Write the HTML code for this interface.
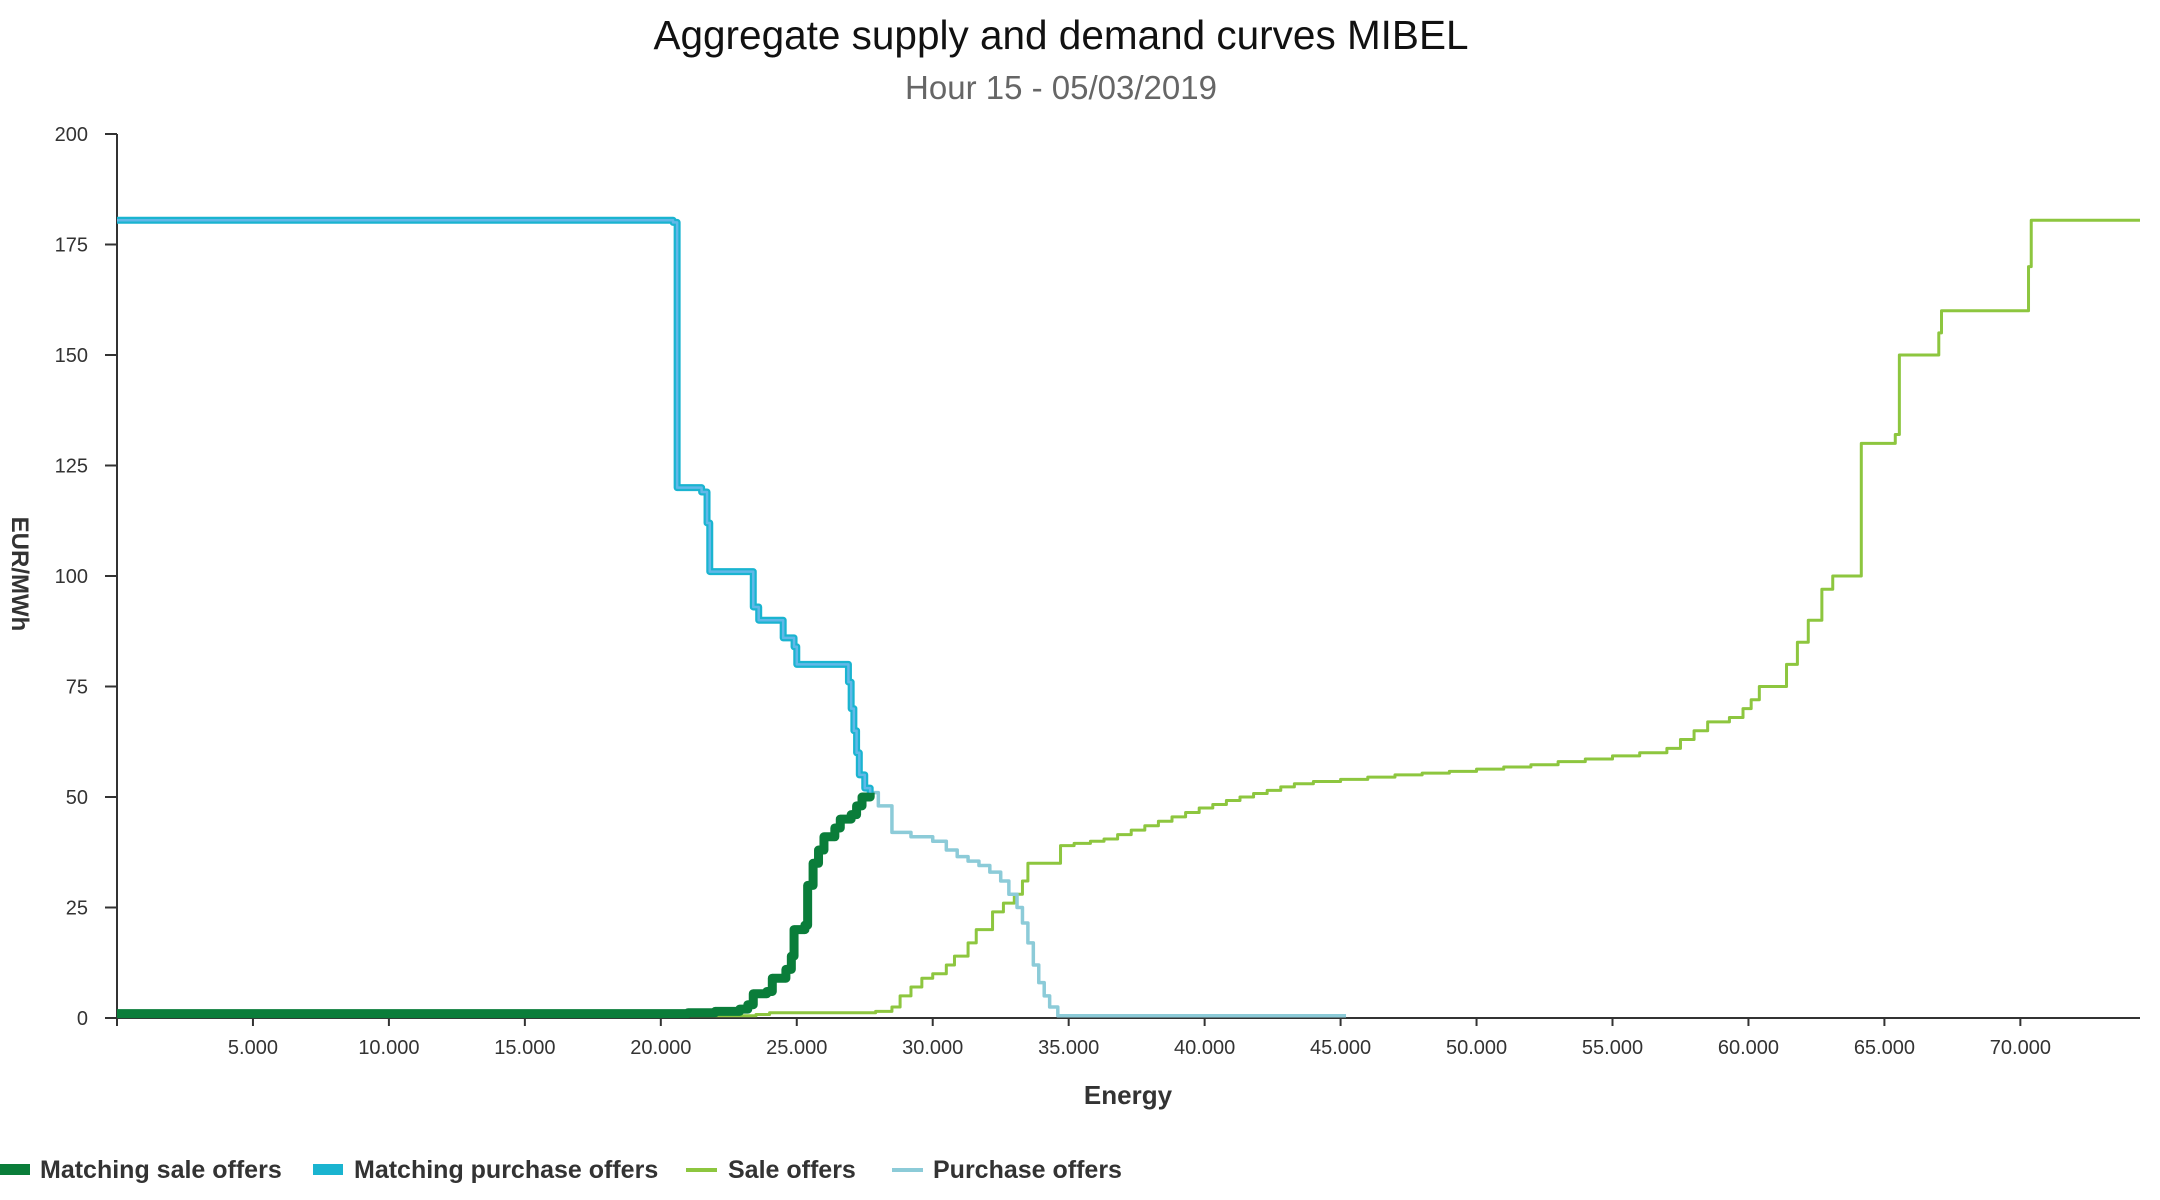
<!DOCTYPE html>
<html><head><meta charset="utf-8"><style>
html,body{margin:0;padding:0;background:#fff;}
svg{display:block;font-family:"Liberation Sans",sans-serif;}
</style></head><body>
<svg id="chart" width="2160" height="1200" viewBox="0 0 2160 1200">
<text x="1061" y="49" text-anchor="middle" font-size="40.5" fill="#111">Aggregate supply and demand curves MIBEL</text>
<text x="1061" y="99" text-anchor="middle" font-size="33" fill="#666">Hour 15 - 05/03/2019</text>
<g id="grid"></g>
<g id="series"></g>
<text transform="translate(12,574) rotate(90)" text-anchor="middle" font-size="24" font-weight="bold" fill="#333">EUR/MWh</text>
<text x="1128" y="1104" text-anchor="middle" font-size="26" font-weight="bold" fill="#333">Energy</text>
<g>
 <g><rect x="0" y="1164" width="30" height="11" fill="#0a7d3a"/><text x="40" y="1178" font-size="25" font-weight="bold" fill="#333">Matching sale offers</text></g>
 <g><rect x="313" y="1164" width="30" height="11" fill="#1ab4d0"/><text x="354" y="1178" font-size="25" font-weight="bold" fill="#333">Matching purchase offers</text></g>
 <g><rect x="686" y="1168" width="31" height="4" fill="#8dc63f"/><text x="728" y="1178" font-size="25" font-weight="bold" fill="#333">Sale offers</text></g>
 <g><rect x="892" y="1168" width="31" height="4" fill="#8ccbd8"/><text x="933" y="1178" font-size="25" font-weight="bold" fill="#333">Purchase offers</text></g>
</g>
</svg>
<script>
const xTicks = [5000,10000,15000,20000,25000,30000,35000,40000,45000,50000,55000,60000,65000,70000];
const xTickLabels = ["5.000","10.000","15.000","20.000","25.000","30.000","35.000","40.000","45.000","50.000","55.000","60.000","65.000","70.000"];
const yTicks = [0,25,50,75,100,125,150,175,200];
const saleX = [0,23500,24000,27900,28500,28800,29200,29600,30000,30500,30800,31300,31600,32200,32600,33000,33300,33500,34700,35200,35800,36300,36800,37300,37800,38300,38800,39300,39800,40300,40800,41300,41800,42300,42800,43300,44000,45000,46000,47000,48000,49000,50000,51000,52000,53000,54000,55000,56000,57000,57500,58000,58500,59300,59800,60100,60400,61400,61800,62200,62700,63100,63300,64150,65400,65550,67000,67100,70300,70400,74400];
const saleY = [0.5,0.8,1.2,1.5,2.5,5,7,9,10,12,14,17,20,24,26,28,31,35,39,39.5,40,40.5,41.5,42.5,43.5,44.5,45.5,46.5,47.5,48.3,49.2,50,50.8,51.5,52.3,53,53.5,54,54.5,55,55.4,55.8,56.3,56.8,57.3,58,58.6,59.3,60,61,63,65,67,68,70,72,75,80,85,90,97,100,100,130,132,150,155,160,170,180.5,180.5];
const matchSaleX = [0,21000,22000,22900,23200,23400,23900,24100,24600,24800,24900,25300,25400,25600,25800,26000,26400,26600,27000,27200,27400,27700];
const matchSaleY = [1,1.2,1.5,2,3,5.5,6,9,11,14,20,21,30,35,38,41,43,45,46,48,50,51];
const matchBuyX = [0,20450,20600,21500,21700,21800,23300,23400,23600,24300,24500,24900,25000,26800,26900,27000,27100,27200,27300,27500,27700];
const matchBuyY = [180.5,180,120,119,112,101,101,93,90,90,86,84,80,80,76,70,65,60,55,52,51];
const buyX = [0,20450,20600,21500,21700,21800,23300,23400,23600,24300,24500,24900,25000,26800,26900,27000,27100,27200,27300,27500,27700,28000,28500,29200,30000,30500,30900,31300,31700,32100,32500,32800,33100,33300,33500,33700,33900,34100,34300,34600,45200];
const buyY = [180.5,180,120,119,112,101,101,93,90,90,86,84,80,80,76,70,65,60,55,52,51,48,42,41,40,38,36.5,35.5,34.5,33,31,28,25,21.5,17,12,8,5,2.5,0.5,0.5];

const NS="http://www.w3.org/2000/svg";
const X0=117, X1=2140, XMAX=74400, Y0=1018, Y1=134, YMAX=200;
const xs=v=>X0+(v/XMAX)*(X1-X0);
const ys=v=>Y0-(v/YMAX)*(Y0-Y1);
function mk(tag,attrs,parent){const e=document.createElementNS(NS,tag);for(const k in attrs)e.setAttribute(k,attrs[k]);parent.appendChild(e);return e;}
const grid=document.getElementById('grid');
const yl=mk('line',{x1:X0,y1:Y1,x2:X0,y2:Y0,stroke:'#333','stroke-width':2},grid);


const xl=mk('line',{x1:X0,y1:Y0,x2:X1,y2:Y0,stroke:'#333','stroke-width':2},grid);


mk('line',{x1:X0,y1:Y0,x2:X0,y2:Y0+8,stroke:'#333','stroke-width':2},grid);
yTicks.forEach(v=>{
 mk('line',{x1:X0-12,y1:ys(v),x2:X0,y2:ys(v),stroke:'#333','stroke-width':2},grid);
 const t=mk('text',{x:88,y:ys(v)+7,'text-anchor':'end','font-size':20,fill:'#333'},grid);
 t.textContent=v;
 
 
});
xTicks.forEach((v,i)=>{
 mk('line',{x1:xs(v),y1:Y0,x2:xs(v),y2:Y0+8,stroke:'#333','stroke-width':2},grid);
 const t=mk('text',{x:xs(v),y:Y0+36,'text-anchor':'middle','font-size':20,fill:'#333'},grid);
 t.textContent=xTickLabels[i];
 
 
});
function stepPath(X,Y){let d='M'+xs(X[0])+','+ys(Y[0]);for(let i=1;i<X.length;i++){d+=' L'+xs(X[i])+','+ys(Y[i-1])+' L'+xs(X[i])+','+ys(Y[i]);}return d;}
const S=document.getElementById('series');
const p1=mk('path',{d:stepPath(saleX,saleY),fill:'none',stroke:'#8dc63f','stroke-width':3,'stroke-linejoin':'round'},S);


const p2=mk('path',{d:stepPath(buyX,buyY),fill:'none',stroke:'#8ccbd8','stroke-width':3.5,'stroke-linejoin':'round'},S);


const p3=mk('path',{d:stepPath(matchSaleX,matchSaleY),fill:'none',stroke:'#0a7d3a','stroke-width':9,'stroke-linejoin':'round'},S);


const p4=mk('path',{d:stepPath(matchBuyX,matchBuyY),fill:'none',stroke:'#1ab4d0','stroke-width':7,'stroke-linejoin':'round'},S);


const p5=mk('path',{d:stepPath(matchBuyX,matchBuyY),fill:'none',stroke:'#62b8e8','stroke-width':2.5,'stroke-linejoin':'round'},S);


</script>
</body></html>
